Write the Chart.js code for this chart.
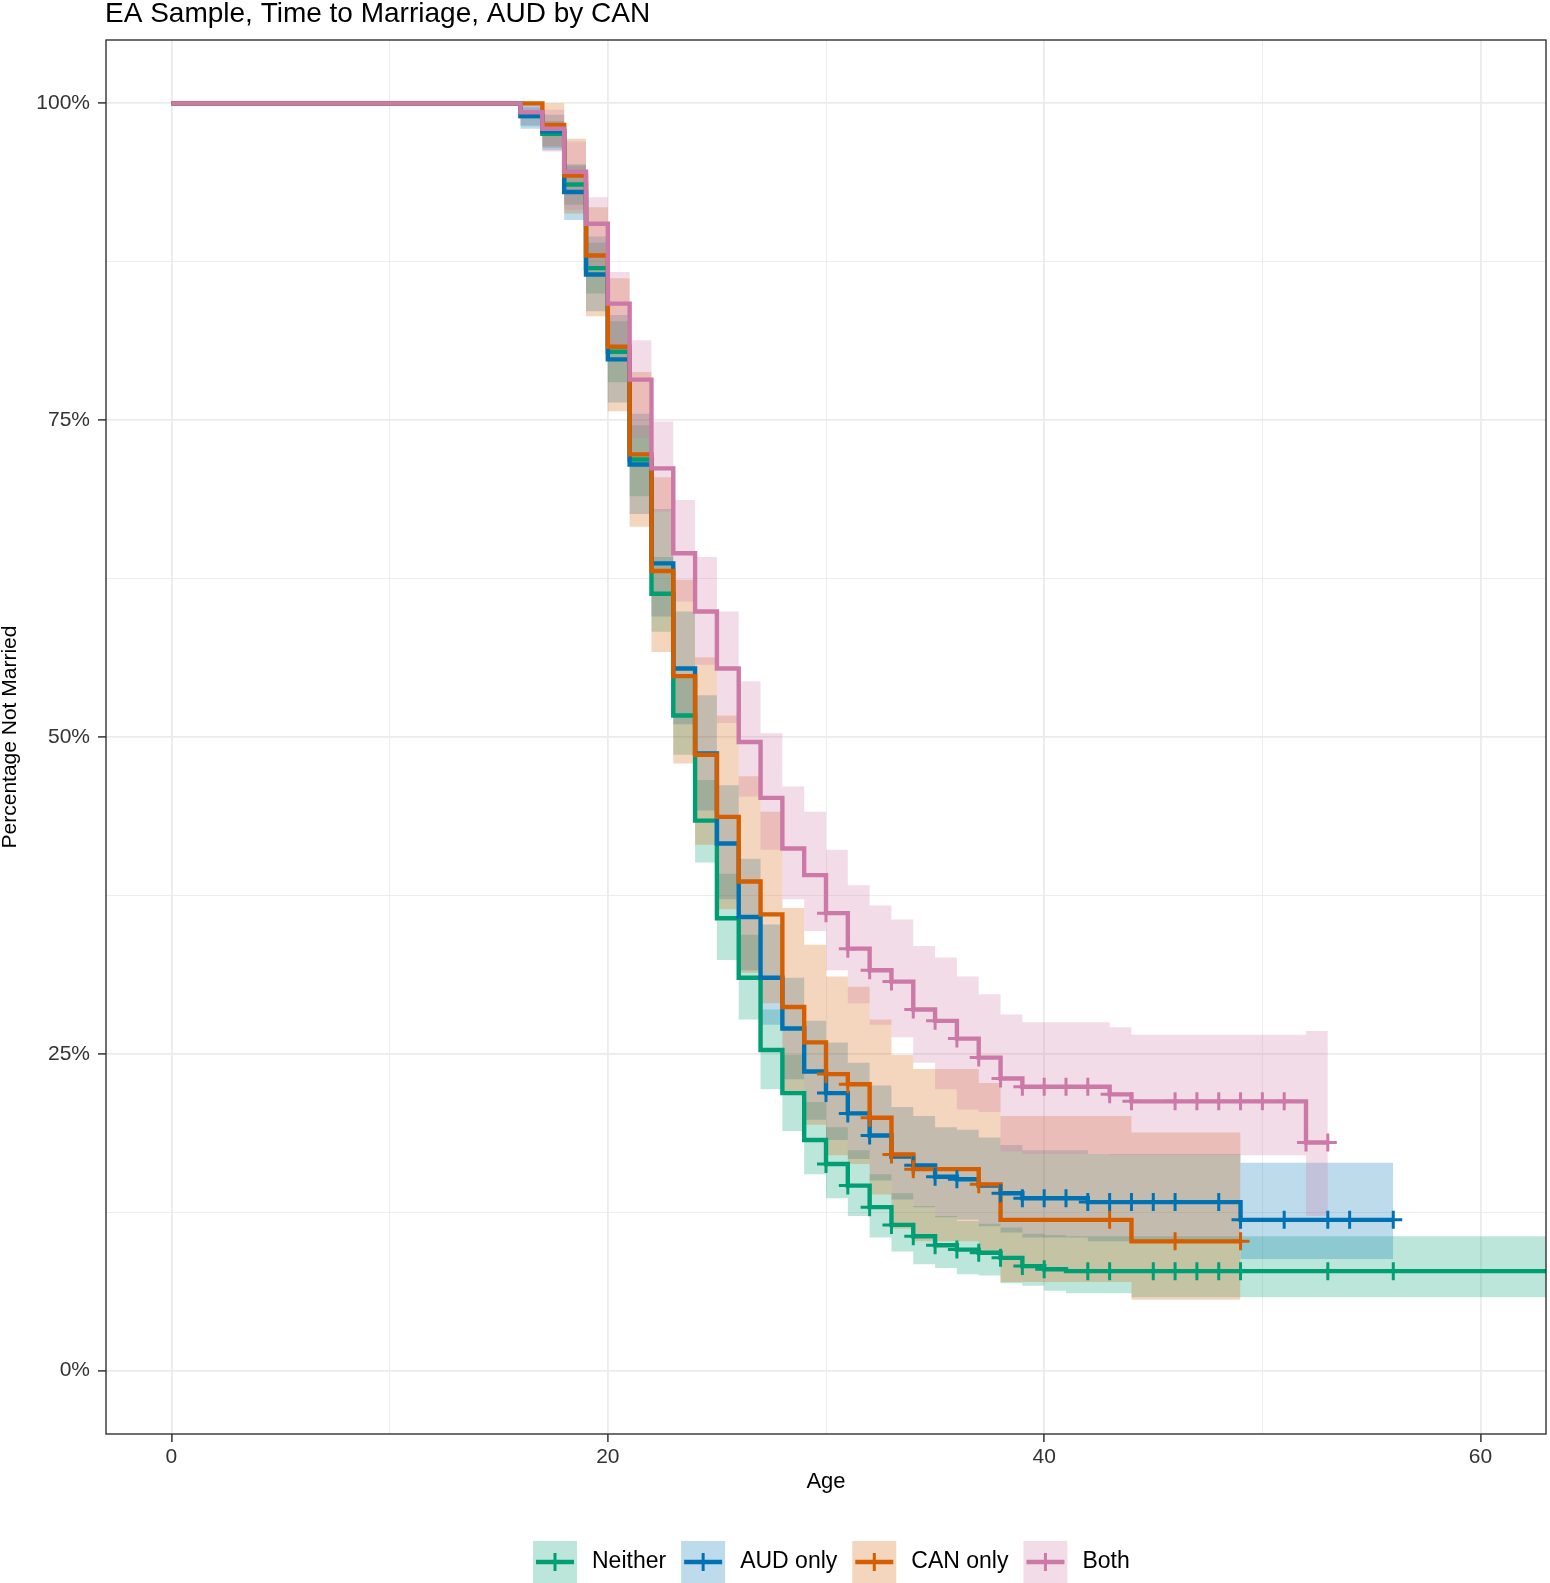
<!DOCTYPE html>
<html>
<head>
<meta charset="utf-8">
<title>EA Sample, Time to Marriage, AUD by CAN</title>
<script src="https://cdn.jsdelivr.net/npm/chart.js@4.4.1/dist/chart.umd.min.js"></script>
<style>
  html, body { margin: 0; padding: 0; background: #fff; }
  #wrap { width: 1550px; height: 1583px; position: relative; }
</style>
</head>
<body>
<div id="wrap"><canvas id="kmChart" width="1550" height="1583"></canvas></div>
<script>
// Kaplan-Meier curves (percent not married)

const titleText = 'EA Sample, Time to Marriage, AUD by CAN';
const groupNames = ['Neither', 'AUD only', 'CAN only', 'Both'];
const xTickValues = [0, 10, 20, 30, 40, 50, 60];
const yTickValues = [0, 12.5, 25, 37.5, 50, 62.5, 75, 87.5, 100];

// Neither
const neitherAge   = [0, 16, 17, 18, 19, 20, 21, 22, 23, 24, 25, 26, 27, 28, 29, 30, 31, 32, 33, 34, 35, 36, 37, 38, 39, 40, 41, 44, 63];
const neitherSurv  = [100, 99.0, 97.6, 93.6, 87.0, 80.4, 71.9, 61.3, 51.7, 43.4, 35.7, 31.0, 25.3, 21.9, 18.2, 16.3, 14.6, 12.9, 11.5, 10.6, 9.9, 9.55, 9.3, 8.9, 8.25, 8.0, 7.85, 7.85, 7.85];
const neitherLower = [100, 98.2, 96.5, 92.0, 85.0, 78.0, 69.0, 58.3, 48.6, 40.1, 32.4, 27.7, 22.2, 18.9, 15.5, 13.6, 12.2, 10.5, 9.4, 8.4, 8.1, 7.6, 7.5, 6.9, 6.7, 6.3, 6.1, 5.8, 5.8];
const neitherUpper = [100, 99.7, 98.6, 95.1, 89.0, 82.8, 74.6, 64.2, 54.8, 46.6, 39.2, 34.4, 28.5, 24.9, 21.2, 19.2, 17.4, 15.5, 14.0, 13.0, 12.2, 11.8, 11.6, 11.3, 10.8, 10.7, 10.6, 10.6, 10.6];
const neitherCensor = [30, 31, 32, 33, 34, 35, 36, 37, 38, 39, 40, 42, 43, 45, 46, 47, 48, 49, 53, 56];

// AUD only
const audAge   = [0, 16, 17, 18, 19, 20, 21, 22, 23, 24, 25, 26, 27, 28, 29, 30, 31, 32, 33, 34, 35, 36, 37, 38, 39, 42, 49, 56];
const audSurv  = [100, 99.0, 97.8, 93.0, 86.5, 79.8, 71.5, 63.7, 55.4, 48.7, 41.6, 35.8, 31.0, 27.0, 23.6, 21.9, 20.3, 18.55, 16.9, 16.2, 15.3, 15.1, 14.6, 14.0, 13.6, 13.3, 11.9, 11.9];
const audLower = [100, 98.0, 96.3, 90.8, 83.6, 76.4, 67.6, 59.5, 51.0, 44.2, 37.2, 31.6, 27.3, 23.0, 19.8, 18.2, 16.7, 15.0, 13.5, 12.9, 12.1, 11.9, 11.4, 10.9, 10.5, 10.2, 8.8, 8.8];
const audUpper = [100, 99.9, 99.1, 95.2, 89.5, 83.3, 75.5, 68.0, 59.9, 53.3, 46.2, 40.4, 35.2, 31.0, 27.6, 25.9, 24.3, 22.5, 20.8, 20.1, 19.2, 19.0, 18.4, 17.8, 17.4, 17.1, 16.4, 16.4];
const audCensor = [30, 31, 32, 34, 35, 36, 38, 39, 40, 41, 42, 43, 44, 45, 46, 48, 49, 51, 53, 54, 56];

// CAN only
const canAge   = [0, 17, 18, 19, 20, 21, 22, 23, 24, 25, 26, 27, 28, 29, 30, 31, 32, 33, 34, 37, 38, 44, 49];
const canSurv  = [100, 98.3, 94.3, 88.0, 80.8, 72.3, 63.1, 54.8, 48.6, 43.7, 38.6, 36.0, 28.7, 25.9, 23.4, 22.6, 19.95, 17.05, 15.9, 14.7, 11.9, 10.2, 10.2];
const canLower = [100, 96.6, 91.3, 83.2, 75.7, 66.6, 56.7, 47.9, 41.5, 36.4, 31.4, 29.0, 22.0, 19.4, 17.0, 16.3, 13.9, 11.2, 10.2, 9.2, 7.0, 5.6, 5.6];
const canUpper = [100, 100, 97.2, 91.8, 86.2, 78.8, 70.5, 62.4, 56.3, 51.7, 46.9, 44.1, 36.5, 33.6, 31.1, 30.3, 27.7, 24.9, 23.8, 22.7, 20.1, 18.8, 18.8];
const canCensor = [30, 31, 32, 33, 34, 37, 43, 46, 49];

// Both
const bothAge   = [0, 16, 17, 18, 19, 20, 21, 22, 23, 24, 25, 26, 27, 28, 29, 30, 31, 32, 33, 34, 35, 36, 37, 38, 39, 43, 44, 52, 53];
const bothSurv  = [100, 99.3, 98.0, 94.6, 90.5, 84.2, 78.2, 71.2, 64.5, 59.9, 55.4, 49.6, 45.2, 41.2, 39.1, 36.1, 33.3, 31.6, 30.7, 28.5, 27.6, 26.2, 24.7, 23.05, 22.4, 21.8, 21.25, 18.0, 18.0];
const bothLower = [100, 98.3, 96.2, 91.6, 87.0, 80.2, 73.6, 67.8, 60.7, 55.7, 51.1, 45.3, 41.1, 37.2, 34.7, 31.6, 29.0, 27.3, 26.3, 24.3, 22.2, 20.6, 20.4, 17.3, 17.1, 17.0, 17.0, 12.2, 12.2];
const bothUpper = [100, 100, 99.5, 97.0, 92.6, 86.7, 81.3, 74.9, 68.7, 64.2, 59.9, 54.4, 50.3, 46.1, 44.1, 41.1, 38.3, 36.7, 35.6, 33.5, 32.6, 31.1, 29.7, 28.1, 27.5, 27.1, 26.5, 26.8, 26.8];
const bothCensor = [30, 31, 32, 33, 34, 35, 36, 37, 38, 39, 40, 41, 42, 43, 44, 46, 47, 48, 49, 50, 51, 52, 53];

const FONT = '"Liberation Sans", Arial, Helvetica, sans-serif';
const BAND_ALPHA = 0.26;

const groups = [
  { name: groupNames[0], rgb: [0, 158, 115],  age: neitherAge, surv: neitherSurv, lower: neitherLower, upper: neitherUpper, censor: neitherCensor },
  { name: groupNames[1], rgb: [0, 114, 178],  age: audAge,     surv: audSurv,     lower: audLower,     upper: audUpper,     censor: audCensor },
  { name: groupNames[2], rgb: [213, 94, 0],   age: canAge,     surv: canSurv,     lower: canLower,     upper: canUpper,     censor: canCensor },
  { name: groupNames[3], rgb: [204, 121, 167], age: bothAge,   surv: bothSurv,    lower: bothLower,    upper: bothUpper,    censor: bothCensor },
];

function rgba(c, a) {
  return `rgba(${c[0]}, ${c[1]}, ${c[2]}, ${a})`;
}

function toPoints(xs, ys) {
  return xs.map((x, i) => ({ x: x, y: ys[i] }));
}

// survival value in effect at time t (step function)
function survAt(g, t) {
  let v = g.surv[0];
  for (let i = 0; i < g.age.length; i++) {
    if (g.age[i] <= t) v = g.surv[i];
  }
  return v;
}

const datasets = [];

// ribbons: upper filled down to the next dataset (its lower bound)
groups.forEach((g, i) => {
  datasets.push({
    label: g.name + ' upper',
    data: toPoints(g.age, g.upper),
    stepped: true,
    borderWidth: 0,
    borderColor: 'rgba(0,0,0,0)',
    backgroundColor: rgba(g.rgb, BAND_ALPHA),
    pointRadius: 0,
    fill: '+1',
    clip: 0,
    order: 40 - i,
  });
  datasets.push({
    label: g.name + ' lower',
    data: toPoints(g.age, g.lower),
    stepped: true,
    borderWidth: 0,
    borderColor: 'rgba(0,0,0,0)',
    pointRadius: 0,
    fill: false,
    clip: 0,
    order: 40 - i,
  });
});

// survival curves
groups.forEach((g, i) => {
  datasets.push({
    label: g.name,
    data: toPoints(g.age, g.surv),
    stepped: true,
    borderColor: rgba(g.rgb, 1),
    borderWidth: 4.4,
    pointRadius: 0,
    fill: false,
    clip: 0,
    order: 30 - i,
  });
});

// censor marks
groups.forEach((g, i) => {
  datasets.push({
    label: g.name + ' censored',
    data: g.censor.map(t => ({ x: t, y: survAt(g, t) })),
    showLine: false,
    pointStyle: 'cross',
    pointRadius: 9,
    pointHoverRadius: 9,
    pointBorderWidth: 3,
    pointBorderColor: rgba(g.rgb, 1),
    borderColor: rgba(g.rgb, 1),
    clip: 0,
    order: 20 - i,
  });
});

// Panel border, title and legend
const panelDecor = {
  id: 'panelDecor',
  afterDraw(chart) {
    const { ctx, chartArea: a } = chart;
    ctx.save();

    ctx.strokeStyle = '#333333';
    ctx.lineWidth = 1.4;
    ctx.strokeRect(a.left, a.top, a.right - a.left, a.bottom - a.top);

    ctx.fillStyle = '#000000';
    ctx.font = '28px ' + FONT;
    ctx.textAlign = 'left';
    ctx.textBaseline = 'alphabetic';
    ctx.fillText(titleText, 105, 22);

    const keyW = 44, keyH = 42, keyGap = 15, itemGap = 15;
    let lx = 533;
    const ly = 1541;
    const cy = ly + keyH / 2;
    ctx.font = '23px ' + FONT;
    ctx.textBaseline = 'middle';
    groups.forEach(g => {
      ctx.fillStyle = rgba(g.rgb, BAND_ALPHA);
      ctx.fillRect(lx, ly, keyW, keyH);
      ctx.strokeStyle = rgba(g.rgb, 1);
      ctx.lineWidth = 4.4;
      ctx.beginPath();
      ctx.moveTo(lx + 3, cy);
      ctx.lineTo(lx + keyW - 3, cy);
      ctx.stroke();
      ctx.lineWidth = 3;
      ctx.beginPath();
      ctx.moveTo(lx + keyW / 2, cy - 9);
      ctx.lineTo(lx + keyW / 2, cy + 9);
      ctx.stroke();
      ctx.fillStyle = '#000000';
      ctx.fillText(g.name, lx + keyW + keyGap, cy);
      lx += keyW + keyGap + ctx.measureText(g.name).width + itemGap;
    });

    ctx.restore();
  }
};

function isMajorX(v) { return v % 20 === 0; }
function isMajorY(v) { return v % 25 === 0; }

new Chart(document.getElementById('kmChart').getContext('2d'), {
  type: 'line',
  data: { datasets: datasets },
  plugins: [panelDecor],
  options: {
    responsive: false,
    animation: false,
    events: [],
    layout: { autoPadding: false, padding: { top: 40, right: 4, bottom: 80, left: 0 } },
    plugins: {
      legend: { display: false },
      tooltip: { enabled: false },
      title: { display: false },
    },
    scales: {
      x: {
        type: 'linear',
        min: -3,
        max: 63,
        afterBuildTicks: scale => { scale.ticks = xTickValues.map(v => ({ value: v })); },
        afterFit: scale => { scale.height = 69; },
        border: { display: false },
        grid: {
          color: '#EBEBEB',
          lineWidth: c => (c.tick && isMajorX(c.tick.value) ? 1.8 : 0.9),
          tickColor: c => (c.tick && isMajorX(c.tick.value) ? '#333333' : 'rgba(0,0,0,0)'),
          tickLength: 8,
          tickWidth: 1.5,
        },
        ticks: {
          autoSkip: false,
          maxRotation: 0,
          padding: 3,
          color: '#333333',
          font: { family: FONT, size: 21, lineHeight: 1.2 },
          callback: v => (isMajorX(v) ? String(v) : ''),
        },
        title: {
          display: true,
          text: 'Age',
          color: '#000000',
          font: { family: FONT, size: 22, lineHeight: 1 },
          padding: { top: 0, bottom: 10 },
        },
      },
      y: {
        type: 'linear',
        min: -5,
        max: 105,
        afterBuildTicks: scale => { scale.ticks = yTickValues.map(v => ({ value: v })); },
        afterFit: scale => { scale.width = 106; },
        border: { display: false },
        grid: {
          color: '#EBEBEB',
          lineWidth: c => (c.tick && isMajorY(c.tick.value) ? 1.8 : 0.9),
          tickColor: c => (c.tick && isMajorY(c.tick.value) ? '#333333' : 'rgba(0,0,0,0)'),
          tickLength: 8,
          tickWidth: 1.5,
        },
        ticks: {
          autoSkip: false,
          padding: 8,
          color: '#333333',
          font: { family: FONT, size: 21 },
          callback: v => (isMajorY(v) ? v + '%' : ''),
        },
        title: {
          display: true,
          text: 'Percentage Not Married',
          color: '#000000',
          font: { family: FONT, size: 21, lineHeight: 1 },
          padding: { top: 0, bottom: 0 },
        },
      },
    },
  },
});
</script>
</body>
</html>
